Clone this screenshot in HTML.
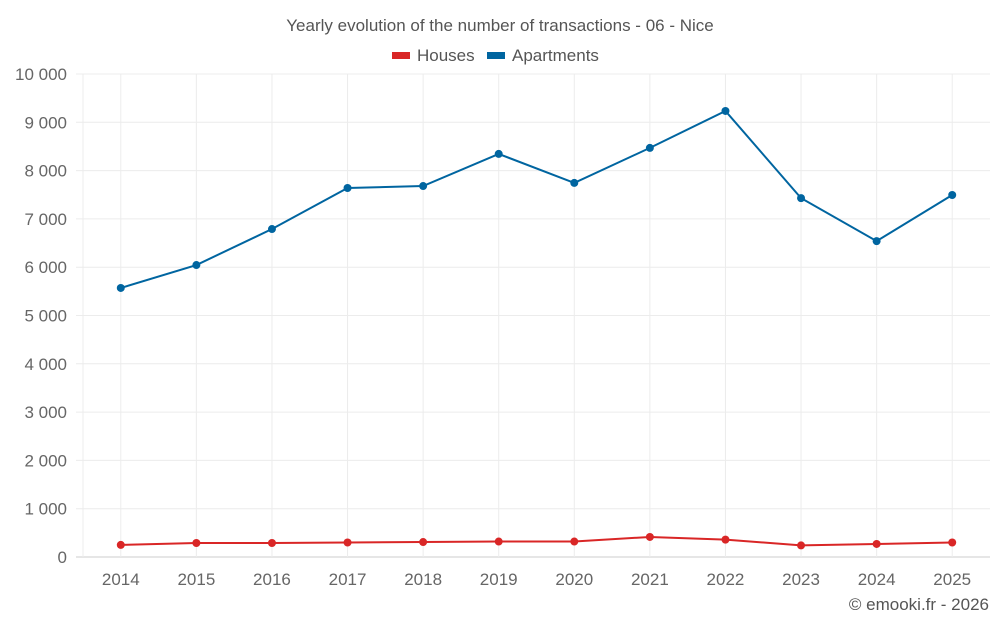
<!DOCTYPE html>
<html><head><meta charset="utf-8"><style>
body{margin:0;background:#fff;font-family:"Liberation Sans",sans-serif}
</style></head><body>
<svg id="chart" width="1000" height="625" xmlns="http://www.w3.org/2000/svg" font-family="Liberation Sans, sans-serif">
<text x="500" y="31" text-anchor="middle" font-size="17" fill="#555">Yearly evolution of the number of transactions - 06 - Nice</text>
<g><rect x="392" y="52" width="18" height="7" fill="#d92626"/><text x="417" y="61" font-size="17" fill="#555">Houses</text></g>
<g><rect x="487" y="52" width="18" height="7" fill="#0065a0"/><text x="512" y="61" font-size="17" fill="#555">Apartments</text></g>
<g id="grid"></g><g id="axes"></g><g id="series"></g>
<text x="989" y="610" text-anchor="end" font-size="17" fill="#555">© emooki.fr - 2026</text>
</svg>
<script>
const years=[2014,2015,2016,2017,2018,2019,2020,2021,2022,2023,2024,2025];
const houses=[250,290,290,300,310,320,320,415,360,240,270,300];
const apartments=[5570,6045,6790,7640,7680,8345,7745,8470,9235,7430,6540,7495];
const yTicks=[0,1000,2000,3000,4000,5000,6000,7000,8000,9000,10000];
const yTickLabels=["0","1 000","2 000","3 000","4 000","5 000","6 000","7 000","8 000","9 000","10 000"];
const NS="http://www.w3.org/2000/svg";
const L=83,R=990,T=74,B=557;
const bw=(R-L)/years.length;
const x=i=>L+bw*(i+0.5);
const y=v=>B-(v/10000)*(B-T);
function mk(tag,attrs,parent){const e=document.createElementNS(NS,tag);for(const k in attrs)e.setAttribute(k,attrs[k]);document.getElementById(parent).appendChild(e);return e;}
yTicks.forEach((v,i)=>{
 const g=mk('line',{x1:76,x2:R,y1:y(v),y2:y(v),stroke:i==0?'#ccc':'#ececec'},'grid');
 
 
 const t=mk('text',{x:67,y:y(v)+6,'text-anchor':'end','font-size':17,fill:'#666'},'axes');
 t.textContent=yTickLabels[i];
 
 
});
const vl=mk('line',{x1:L,x2:L,y1:T,y2:B,stroke:'#ececec'},'grid');


years.forEach((yr,i)=>{
 const g=mk('line',{x1:x(i),x2:x(i),y1:T,y2:B,stroke:'#ececec'},'grid');
 
 
 const t=mk('text',{x:x(i),y:585,'text-anchor':'middle','font-size':17,fill:'#666'},'axes');
 t.textContent=yr;
 
 
});
function series(vals,color,name){
 const p=mk('polyline',{points:vals.map((v,i)=>x(i)+','+y(v)).join(' '),fill:'none',stroke:color,'stroke-width':2},'series');
 
 
 vals.forEach((v,i)=>{
  const c=mk('circle',{cx:x(i),cy:y(v),r:4,fill:color},'series');
  
  
 });
}
series(houses,'#d92626','houses');
series(apartments,'#0065a0','apartments');
</script>
</body></html>
